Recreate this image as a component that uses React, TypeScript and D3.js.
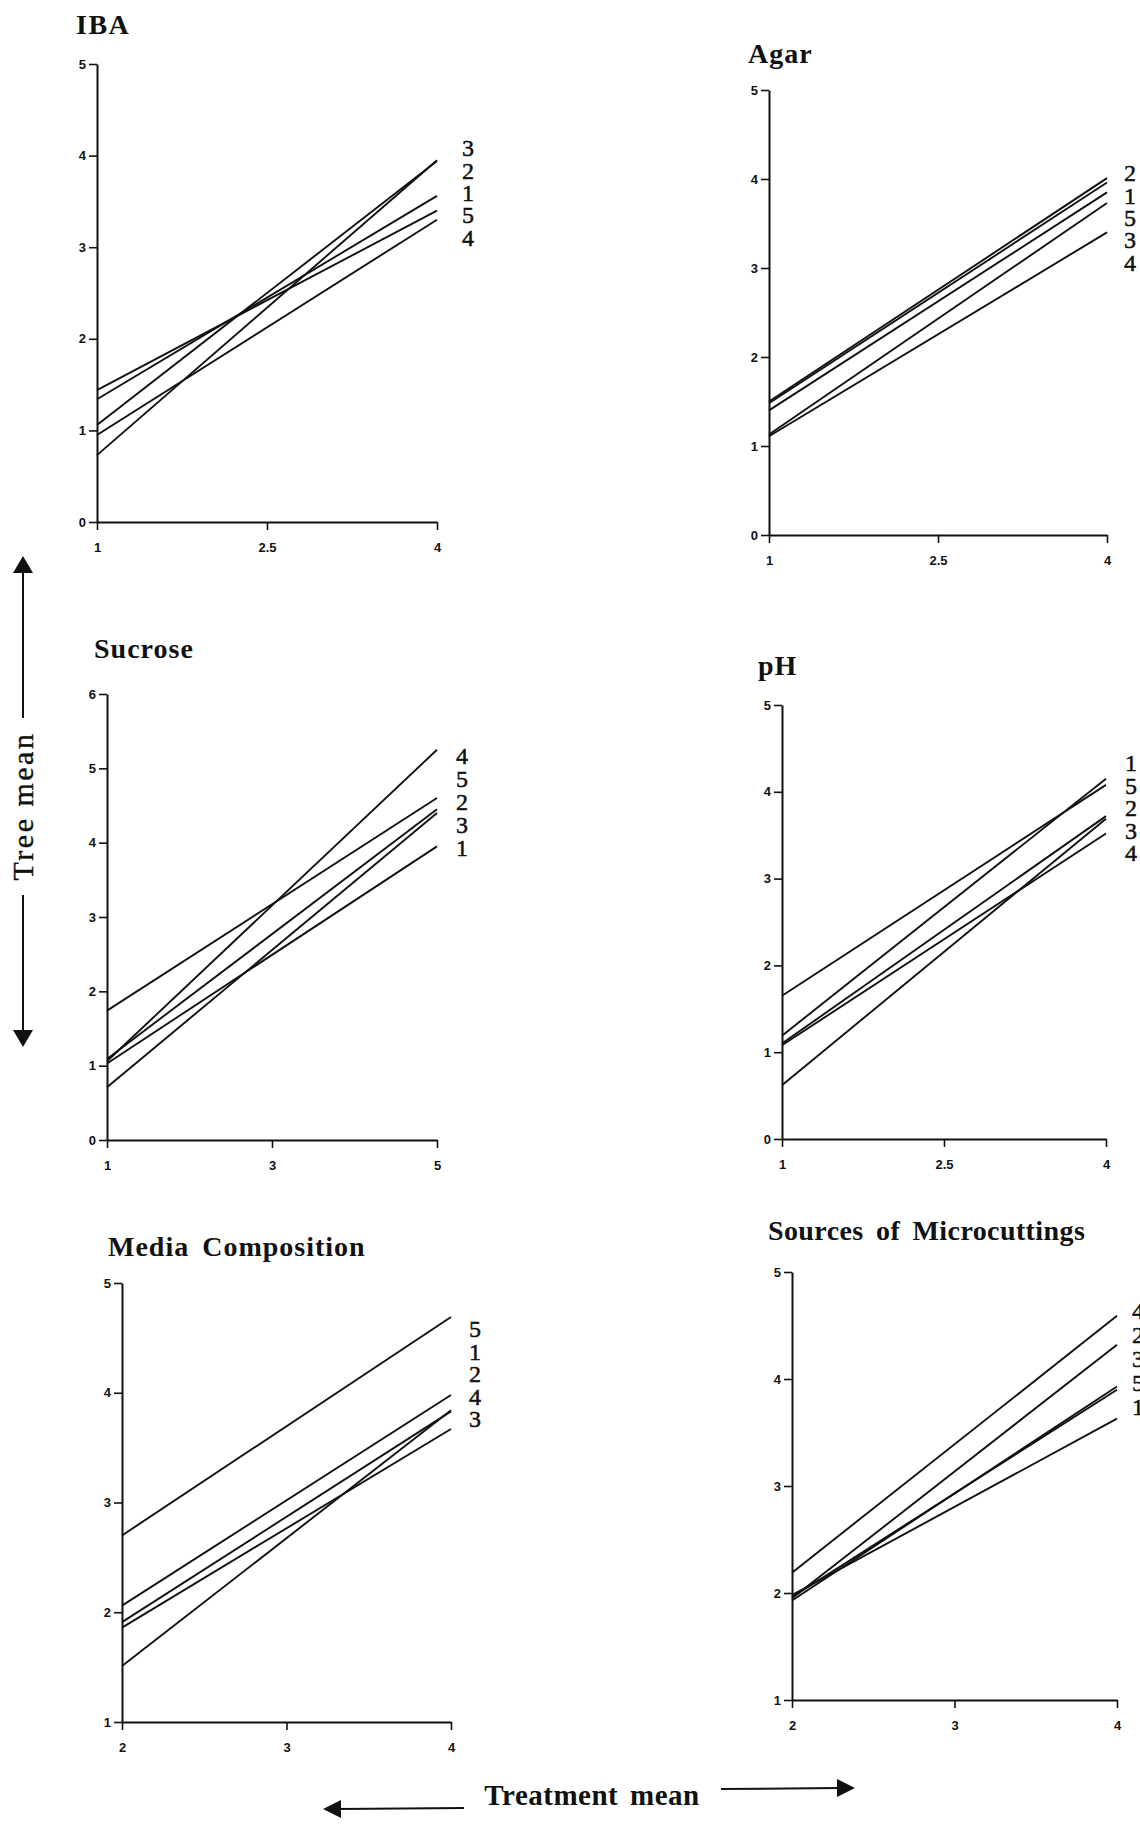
import * as d3 from "d3";
import { useEffect, useRef } from "react";

const W = 1140;
const H = 1824;

// one entry per panel
const panelTitles = ["IBA", "Agar", "Sucrose", "pH", "Media Composition", "Sources of Microcuttings"];
const treatmentRange = [
  [1, 4],
  [1, 4],
  [1, 5],
  [1, 4],
  [2, 4],
  [2, 4],
];
const xTickValues = [
  [1, 2.5, 4],
  [1, 2.5, 4],
  [1, 3, 5],
  [1, 2.5, 4],
  [2, 3, 4],
  [2, 3, 4],
];
const treeMeanRange = [
  [0, 5],
  [0, 5],
  [0, 6],
  [0, 5],
  [1, 5],
  [1, 5],
];

const treeIds = [1, 2, 3, 4, 5];
// tree mean at the lowest / highest treatment mean, trees 1..5
const meanAtLow = [
  [1.34, 1.06, 0.73, 0.95, 1.44],
  [1.48, 1.5, 1.13, 1.11, 1.4],
  [1.03, 1.09, 0.71, 1.06, 1.74],
  [1.19, 1.1, 0.62, 1.08, 1.65],
  [2.06, 1.51, 1.86, 1.91, 2.7],
  [1.98, 1.95, 1.93, 2.19, 1.96],
];
const meanAtHigh = [
  [3.56, 3.94, 3.95, 3.3, 3.4],
  [3.96, 4.01, 3.73, 3.4, 3.85],
  [3.95, 4.45, 4.4, 5.25, 4.6],
  [4.15, 3.72, 3.69, 3.52, 4.08],
  [3.98, 3.84, 3.67, 3.83, 4.69],
  [3.63, 4.32, 3.93, 4.59, 3.9],
];
// order of the tree numbers stacked at the right end
const labelOrder = [
  [3, 2, 1, 5, 4],
  [2, 1, 5, 3, 4],
  [4, 5, 2, 3, 1],
  [1, 5, 2, 3, 4],
  [5, 1, 2, 4, 3],
  [4, 2, 3, 5, 1],
];

// page layout of each panel (pixels)
const frames = [
  { x0: 97, x1: 437, y0: 522, y1: 64, tx: 76, ty: 34, ls: 1.5, lx: 462, ly: 148, step: 22.3 },
  { x0: 769, x1: 1107, y0: 535, y1: 90, tx: 748, ty: 63, ls: 1, lx: 1124, ly: 173, step: 22.3 },
  { x0: 107, x1: 437, y0: 1140, y1: 694, tx: 94, ty: 658, ls: 1, lx: 456, ly: 756, step: 23 },
  { x0: 782, x1: 1106, y0: 1139, y1: 705, tx: 758, ty: 675, ls: 1, lx: 1125, ly: 763, step: 22.4 },
  { x0: 122, x1: 451, y0: 1722, y1: 1283, tx: 108, ty: 1256, ls: 1, lx: 469, ly: 1329, step: 22.4 },
  { x0: 792, x1: 1117, y0: 1700, y1: 1272, tx: 768, ty: 1240, ls: 0.4, lx: 1132, ly: 1311, step: 24 },
];

const serif = "'Liberation Serif', 'DejaVu Serif', serif";
const sans = "'Liberation Sans', Arial, sans-serif";
const ink = "#111";

export default function App() {
  const ref = useRef<SVGSVGElement>(null);

  useEffect(() => {
    if (!ref.current) return;
    const svg = d3.select(ref.current);
    svg.selectAll("*").remove();

    svg.append("rect").attr("width", W).attr("height", H).attr("fill", "#fff");

    panelTitles.forEach((title, i) => {
      const f = frames[i];
      const x = d3.scaleLinear().domain(treatmentRange[i]).range([f.x0, f.x1]);
      const y = d3.scaleLinear().domain(treeMeanRange[i]).range([f.y0, f.y1]);
      const g = svg.append("g");

      g.append("text")
        .attr("x", f.tx)
        .attr("y", f.ty)
        .style("font-family", serif)
        .style("font-size", "28px")
        .style("font-weight", "700")
        .style("letter-spacing", `${f.ls}px`)
        .style("word-spacing", "5px")
        .style("fill", ink)
        .text(title);

      const xAxis = g
        .append("g")
        .attr("transform", `translate(0,${f.y0})`)
        .call(
          d3
            .axisBottom(x)
            .tickValues(xTickValues[i])
            .tickSizeInner(8)
            .tickSizeOuter(0)
            .tickPadding(13)
            .tickFormat((d) => String(d))
        );

      const [lo, hi] = treeMeanRange[i];
      const yAxis = g
        .append("g")
        .attr("transform", `translate(${f.x0},0)`)
        .call(
          d3
            .axisLeft(y)
            .tickValues(d3.range(lo, hi + 1))
            .tickSizeInner(8)
            .tickSizeOuter(0)
            .tickPadding(3)
            .tickFormat((d) => String(d))
        );

      [xAxis, yAxis].forEach((a) => {
        a.select(".domain").attr("stroke", ink).attr("stroke-width", 2);
        a.selectAll(".tick line").attr("stroke", ink).attr("stroke-width", 1.6);
        a.selectAll(".tick text")
          .attr("fill", ink)
          .style("font-family", sans)
          .style("font-size", "13px")
          .style("font-weight", "700");
      });

      const line = d3
        .line<[number, number]>()
        .x((d) => x(d[0]))
        .y((d) => y(d[1]));

      treeIds.forEach((_, k) => {
        const pts: [number, number][] = [
          [treatmentRange[i][0], meanAtLow[i][k]],
          [treatmentRange[i][1], meanAtHigh[i][k]],
        ];
        g.append("path")
          .attr("d", line(pts))
          .attr("fill", "none")
          .attr("stroke", ink)
          .attr("stroke-width", 1.9);
      });

      labelOrder[i].forEach((id, j) => {
        g.append("text")
          .attr("x", f.lx)
          .attr("y", f.ly + j * f.step)
          .attr("dy", "0.35em")
          .style("font-family", serif)
          .style("font-size", "24px")
          .style("fill", ink)
          .style("stroke", ink)
          .style("stroke-width", "0.5px")
          .text(id);
      });
    });

    // "Tree mean" double arrow on the left
    const ax = 23;
    svg.append("line").attr("x1", ax).attr("x2", ax).attr("y1", 570).attr("y2", 718)
      .attr("stroke", ink).attr("stroke-width", 2);
    svg.append("line").attr("x1", ax).attr("x2", ax).attr("y1", 895).attr("y2", 1032)
      .attr("stroke", ink).attr("stroke-width", 2);
    svg.append("path")
      .attr("d", `M${ax},556 L${ax - 10},573 L${ax + 10},573 Z`)
      .attr("fill", ink);
    svg.append("path")
      .attr("d", `M${ax},1047 L${ax - 10},1030 L${ax + 10},1030 Z`)
      .attr("fill", ink);
    svg.append("text")
      .attr("transform", `translate(33,806) rotate(-90)`)
      .attr("text-anchor", "middle")
      .style("font-family", serif)
      .style("font-size", "30px")
      .style("letter-spacing", "2.5px")
      .style("fill", ink)
      .style("stroke", ink)
      .style("stroke-width", "0.4px")
      .text("Tree mean");

    // "Treatment mean" double arrow at the bottom
    svg.append("text")
      .attr("x", 592)
      .attr("y", 1805)
      .attr("text-anchor", "middle")
      .style("font-family", serif)
      .style("font-size", "29px")
      .style("font-weight", "700")
      .style("letter-spacing", "0.5px")
      .style("word-spacing", "4px")
      .style("fill", ink)
      .text("Treatment mean");
    svg.append("line").attr("x1", 338).attr("x2", 464).attr("y1", 1809).attr("y2", 1808)
      .attr("stroke", ink).attr("stroke-width", 2);
    svg.append("path")
      .attr("d", "M323,1809 L341,1800 L341,1818 Z")
      .attr("fill", ink);
    svg.append("line").attr("x1", 721).attr("x2", 840).attr("y1", 1789).attr("y2", 1788)
      .attr("stroke", ink).attr("stroke-width", 2);
    svg.append("path")
      .attr("d", "M855,1788 L837,1779 L837,1797 Z")
      .attr("fill", ink);
  }, []);

  return (
    <div style={{ position: "absolute", left: 0, top: 0, width: W, height: H, overflow: "hidden" }}>
      <svg ref={ref} width={W} height={H} style={{ display: "block" }} />
    </div>
  );
}
